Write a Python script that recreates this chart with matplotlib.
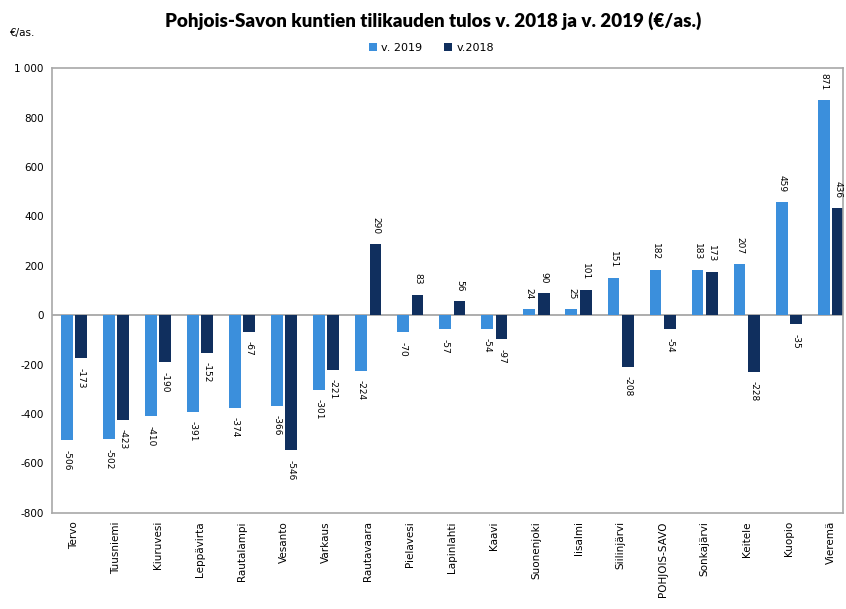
import matplotlib
matplotlib.use("Agg")
import matplotlib.pyplot as plt
import numpy as np

categories = ["Tervo", "Tuusniemi", "Kiuruvesi", "Leppävirta", "Rautalampi", "Vesanto",
              "Varkaus", "Rautavaara", "Pielavesi", "Lapinlahti", "Kaavi", "Suonenjoki",
              "Iisalmi", "Siilinjärvi", "POHJOIS-SAVO", "Sonkajärvi", "Keitele", "Kuopio", "Vieremä"]
v2019 = [-506, -502, -410, -391, -374, -366, -301, -224, -70, -57, -54, 24, 25, 151, 182, 183, 207, 459, 871]
v2018 = [-173, -423, -190, -152, -67, -546, -221, 290, 83, 56, -97, 90, 101, -208, -54, 173, -228, -35, 436]
yticks = [1000, 800, 600, 400, 200, 0, -200, -400, -600, -800]
ytick_labels = ["1 000", "800", "600", "400", "200", "0", "-200", "-400", "-600", "-800"]

c19 = "#3b8fdc"
c18 = "#102f5e"

fig = plt.figure(figsize=(8.46, 6.09), dpi=100)
ax = fig.add_axes([0.0615, 0.158, 0.935, 0.730])

x = np.arange(len(categories))
w = 0.28
off = 0.17
b1 = ax.bar(x - off, v2019, w, color=c19, label="v. 2019")
b2 = ax.bar(x + off, v2018, w, color=c18, label="v.2018")

for bars, vals in ((b1, v2019), (b2, v2018)):
    for b, v in zip(bars, vals):
        cx = b.get_x() + b.get_width() / 2
        if v >= 0:
            ax.annotate(str(v), (cx, v), xytext=(0, 7), textcoords="offset points",
                        rotation=270, ha="center", va="bottom", fontsize=6.5)
        else:
            ax.annotate(str(v), (cx, v), xytext=(0, -7), textcoords="offset points",
                        rotation=270, ha="center", va="top", fontsize=6.5)

ax.set_xlim(-0.52, len(categories) - 1 + 0.29)
ax.set_ylim(-800, 1000)
ax.set_yticks(yticks)
ax.set_yticklabels(ytick_labels, fontsize=7.5)
ax.set_xticks(x)
ax.set_xticklabels(categories, rotation=90, fontsize=7.5)
ax.tick_params(length=0, pad=6)
ax.axhline(0, color="#a0a0a0", lw=1.2, zorder=0)
for s in ax.spines.values():
    s.set_color("#a8a8a8")
    s.set_linewidth(1.2)

fig.text(0.512, 0.965, "Pohjois-Savon kuntien tilikauden tulos v. 2018 ja v. 2019 (€/as.)",
         ha="center", va="center", fontsize=13.5, fontweight="heavy", family="Lato")
fig.text(0.012, 0.945, "€/as.", ha="left", va="center", fontsize=7.5)
fig.legend(loc="center", bbox_to_anchor=(0.51, 0.921), ncol=2, frameon=False, fontsize=8,
           handlelength=0.7, handleheight=0.7, columnspacing=2.0, handletextpad=0.4)

fig.savefig("out.png", dpi=100)
